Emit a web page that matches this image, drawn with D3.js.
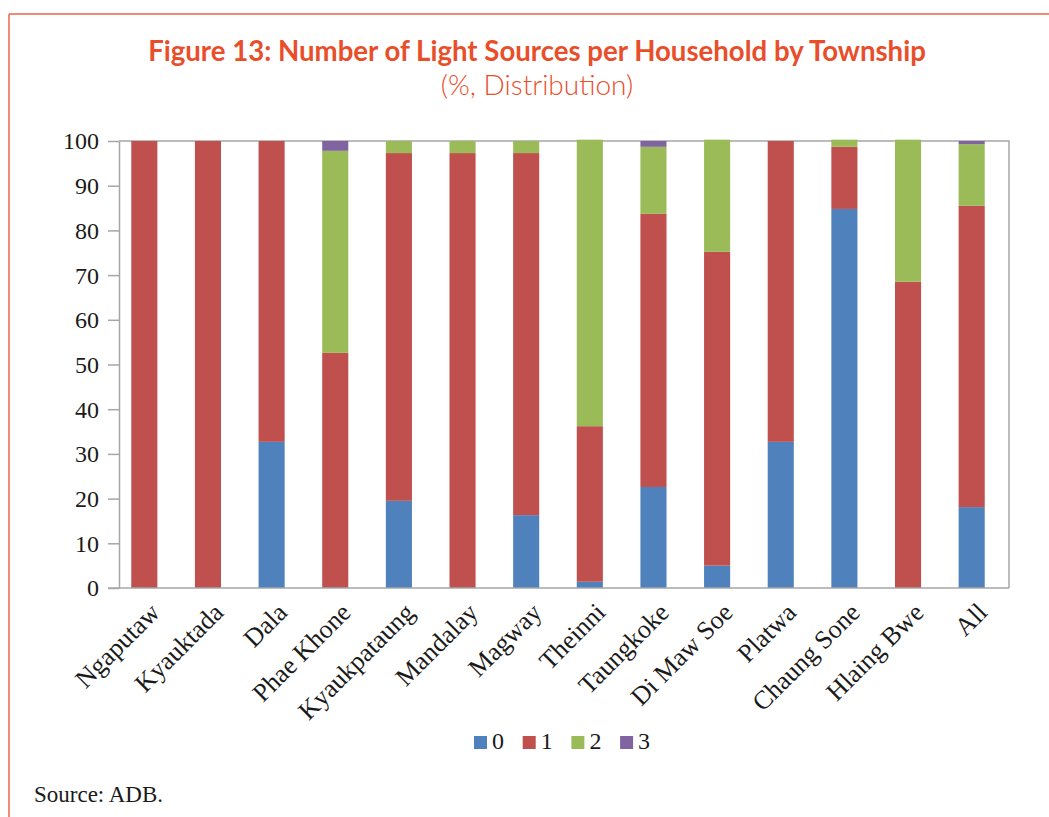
<!DOCTYPE html>
<html>
<head>
<meta charset="utf-8">
<script src="https://cdn.jsdelivr.net/npm/d3@7"></script>
<style>
  body { margin: 0; background: #fff; }
  svg { display: block; }
</style>
</head>
<body>
<svg id="chart" width="1049" height="817"></svg>
<script>
var width = 1049;
var height = 817;

// townships along the x axis
var townships = ["Ngaputaw", "Kyauktada", "Dala", "Phae Khone", "Kyaukpataung", "Mandalay",
  "Magway", "Theinni", "Taungkoke", "Di Maw Soe", "Platwa", "Chaung Sone", "Hlaing Bwe", "All"];

// share of households (%) by number of light sources
var lights0 = [0, 0, 32.7, 0, 19.5, 0, 16.3, 1.4, 22.6, 5.0, 32.7, 84.8, 0, 18.1];
var lights1 = [100, 100, 67.3, 52.6, 77.8, 97.3, 81.0, 34.8, 61.1, 70.2, 67.3, 13.9, 68.5, 67.4];
var lights2 = [0, 0, 0, 45.2, 2.7, 2.7, 2.7, 64.1, 15.0, 25.1, 0, 1.6, 31.8, 13.8];
var lights3 = [0, 0, 0, 2.2, 0, 0, 0, 0, 1.3, 0, 0, 0, 0, 0.7];

var seriesKeys = ["0", "1", "2", "3"];
var seriesColors = ["#4f81bd", "#c0504d", "#9bbb59", "#8064a2"];
var yTicks = [0, 10, 20, 30, 40, 50, 60, 70, 80, 90, 100];

var rows = townships.map(function(t, i) {
  return { township: t, "0": lights0[i], "1": lights1[i], "2": lights2[i], "3": lights3[i] };
});

var svg = d3.select("#chart");

// frame of the figure box
svg.append("line").attr("x1", 9).attr("y1", 14).attr("x2", width).attr("y2", 14)
  .attr("stroke", "#e8664a").attr("stroke-width", 1.5);
svg.append("line").attr("x1", 9).attr("y1", 14).attr("x2", 9).attr("y2", height)
  .attr("stroke", "#e8664a").attr("stroke-width", 1.5);

// titles
svg.append("text")
  .attr("x", 537).attr("y", 61)
  .attr("text-anchor", "middle")
  .style("font-family", "Lato")
  .style("font-weight", "bold")
  .style("font-size", "27.6px")
  .attr("fill", "#e94e2b")
  .text("Figure 13: Number of Light Sources per Household by Township");

svg.append("text")
  .attr("x", 537).attr("y", 95)
  .attr("text-anchor", "middle")
  .style("font-family", "Lato")
  .style("font-weight", "300")
  .style("font-size", "28px")
  .attr("fill", "#e94e2b")
  .text("(%, Distribution)");

var plotLeft = 119, plotRight = 1009, plotTop = 141, plotBottom = 588;

var x = d3.scaleBand()
  .domain(townships)
  .range([112.5, 1003.5])
  .paddingInner(0.59)
  .paddingOuter(0.295);

var y = d3.scaleLinear()
  .domain([0, 100])
  .range([plotBottom, plotTop]);

var stack = d3.stack().keys(seriesKeys);
var stacked = stack(rows);

var color = d3.scaleOrdinal().domain(seriesKeys).range(seriesColors);

// plot area border (top and right)
svg.append("path")
  .attr("d", "M" + plotLeft + "," + plotTop + "H" + plotRight + "V" + plotBottom)
  .attr("fill", "none")
  .attr("stroke", "#a6a6a6")
  .attr("stroke-width", 1.5);

svg.append("g")
  .selectAll("g")
  .data(stacked)
  .enter().append("g")
  .attr("fill", function(d) { return color(d.key); })
  .selectAll("rect")
  .data(function(d) { return d; })
  .enter().append("rect")
  .attr("x", function(d) { return x(d.data.township); })
  .attr("width", x.bandwidth())
  .attr("y", function(d) { return y(d[1]); })
  .attr("height", function(d) { return y(d[0]) - y(d[1]); });

// y axis
var yAxis = svg.append("g")
  .attr("transform", "translate(" + plotLeft + ",0)")
  .call(d3.axisLeft(y).tickValues(yTicks).tickSize(11).tickPadding(9).tickSizeOuter(0));
yAxis.select(".domain").attr("stroke", "#a6a6a6").attr("stroke-width", 1.5);
yAxis.selectAll(".tick line").attr("stroke", "#a6a6a6").attr("stroke-width", 1.5);
yAxis.selectAll(".tick text")
  .style("font-family", "Liberation Serif")
  .style("font-size", "24px")
  .attr("fill", "#1a1a1a")
  .attr("dy", "0.33em");

// x axis line (runs out to the tick ends on the left)
svg.append("line")
  .attr("x1", plotLeft - 11).attr("x2", plotRight)
  .attr("y1", plotBottom).attr("y2", plotBottom)
  .attr("stroke", "#a6a6a6").attr("stroke-width", 1.5);

// rotated category labels
svg.append("g")
  .selectAll("text")
  .data(townships)
  .enter().append("text")
  .attr("transform", function(d) {
    var cx = x(d) + x.bandwidth() / 2;
    return "translate(" + (cx + 17) + "," + 614 + ") rotate(-45)";
  })
  .attr("text-anchor", "end")
  .style("font-family", "Liberation Serif")
  .style("font-size", "26px")
  .attr("fill", "#1a1a1a")
  .text(function(d) { return d; });

// legend
var legend = svg.append("g")
  .selectAll("g")
  .data(seriesKeys)
  .enter().append("g")
  .attr("transform", function(d, i) { return "translate(" + (474 + i * 48.7) + ",736)"; });
legend.append("rect")
  .attr("width", 13).attr("height", 13)
  .attr("fill", function(d) { return color(d); });
legend.append("text")
  .attr("x", 18).attr("y", 13)
  .style("font-family", "Liberation Serif")
  .style("font-size", "24px")
  .attr("fill", "#1a1a1a")
  .text(function(d) { return d; });

// source note
svg.append("text")
  .attr("x", 34).attr("y", 802)
  .style("font-family", "Liberation Serif")
  .style("font-size", "23px")
  .attr("fill", "#1a1a1a")
  .text("Source: ADB.");
</script>
</body>
</html>
